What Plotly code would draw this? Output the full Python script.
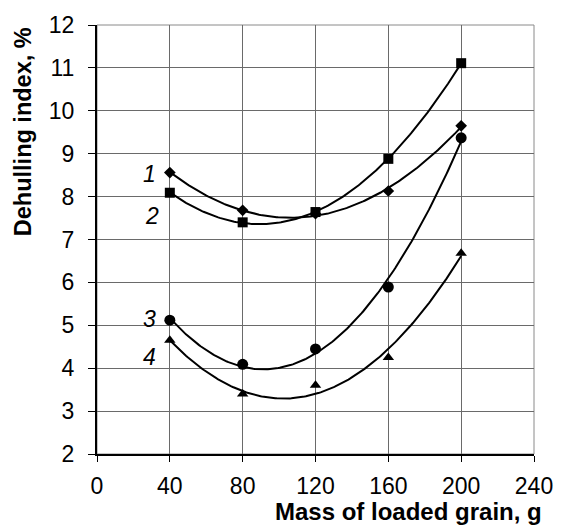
import numpy as np
import plotly.graph_objects as go

mass = [40, 80, 120, 160, 200]
s1 = [8.56, 7.68, 7.60, 8.13, 9.65]
s2 = [8.09, 7.40, 7.64, 8.88, 11.11]
s3 = [5.12, 4.09, 4.45, 5.89, 9.37]
s4 = [4.65, 3.40, 3.60, 4.25, 6.68]
series = [("1", s1, "diamond", 9), ("2", s2, "square", 10),
          ("3", s3, "circle", 11), ("4", s4, "triangle-up", 10)]
label_pos = {"1": (29, 8.53), "2": (30, 7.55), "3": (29, 5.14), "4": (29, 4.26)}

x_ticks = [0, 40, 80, 120, 160, 200, 240]
y_ticks = list(range(2, 13))

FONT = "Arial, 'Liberation Sans', sans-serif"

fig = go.Figure()
xs = np.linspace(min(mass), max(mass), 200)
for name, ys, sym, size in series:
    coef = np.polyfit(mass, ys, 2)
    fig.add_trace(go.Scatter(x=xs, y=np.polyval(coef, xs), mode="lines",
                             line=dict(color="black", width=2), showlegend=False,
                             hoverinfo="skip"))
    fig.add_trace(go.Scatter(x=mass, y=ys, mode="markers", name=name,
                             marker=dict(symbol=sym, size=size, color="black"),
                             showlegend=False))
    lx, ly = label_pos[name]
    fig.add_annotation(x=lx, y=ly, text=f"<i>{name}</i>", showarrow=False,
                       font=dict(family=FONT, size=23, color="black"))

fig.add_shape(type="rect", xref="paper", yref="paper", x0=0, y0=0, x1=1, y1=1,
              line=dict(color="#8a8a8a", width=1), layer="below")

fig.update_xaxes(range=[0, 240], tickvals=x_ticks, ticks="outside", ticklen=6,
                 tickcolor="black", tickwidth=1, showline=True, linecolor="black",
                 linewidth=2, showgrid=True, gridcolor="#6a6a6a", gridwidth=1,
                 zeroline=False, ticklabelstandoff=4,
                 tickfont=dict(family=FONT, size=23, color="black"))
fig.update_yaxes(range=[2, 12], tickvals=y_ticks, ticks="outside", ticklen=7,
                 tickcolor="black", tickwidth=1, showline=True, linecolor="black",
                 linewidth=2, showgrid=True, gridcolor="#6a6a6a", gridwidth=1,
                 zeroline=False, ticklabelstandoff=9,
                 tickfont=dict(family=FONT, size=23, color="black"))

fig.add_annotation(xref="paper", yref="paper", x=1.0, y=-0.135, xanchor="right",
                   yanchor="middle", xshift=10, text="<b>Mass of loaded grain, g</b>",
                   showarrow=False, font=dict(family=FONT, size=24, color="black"))
fig.add_annotation(xref="paper", yref="paper", x=-0.17, y=1.0, xanchor="center",
                   yanchor="top", textangle=-90, text="<b>Dehulling index, %</b>",
                   showarrow=False, font=dict(family=FONT, size=23.5, color="black"))

fig.update_layout(width=565, height=529, margin=dict(l=97, r=22, t=23, b=75),
                  plot_bgcolor="white", paper_bgcolor="white")
fig.write_html("out.html")
